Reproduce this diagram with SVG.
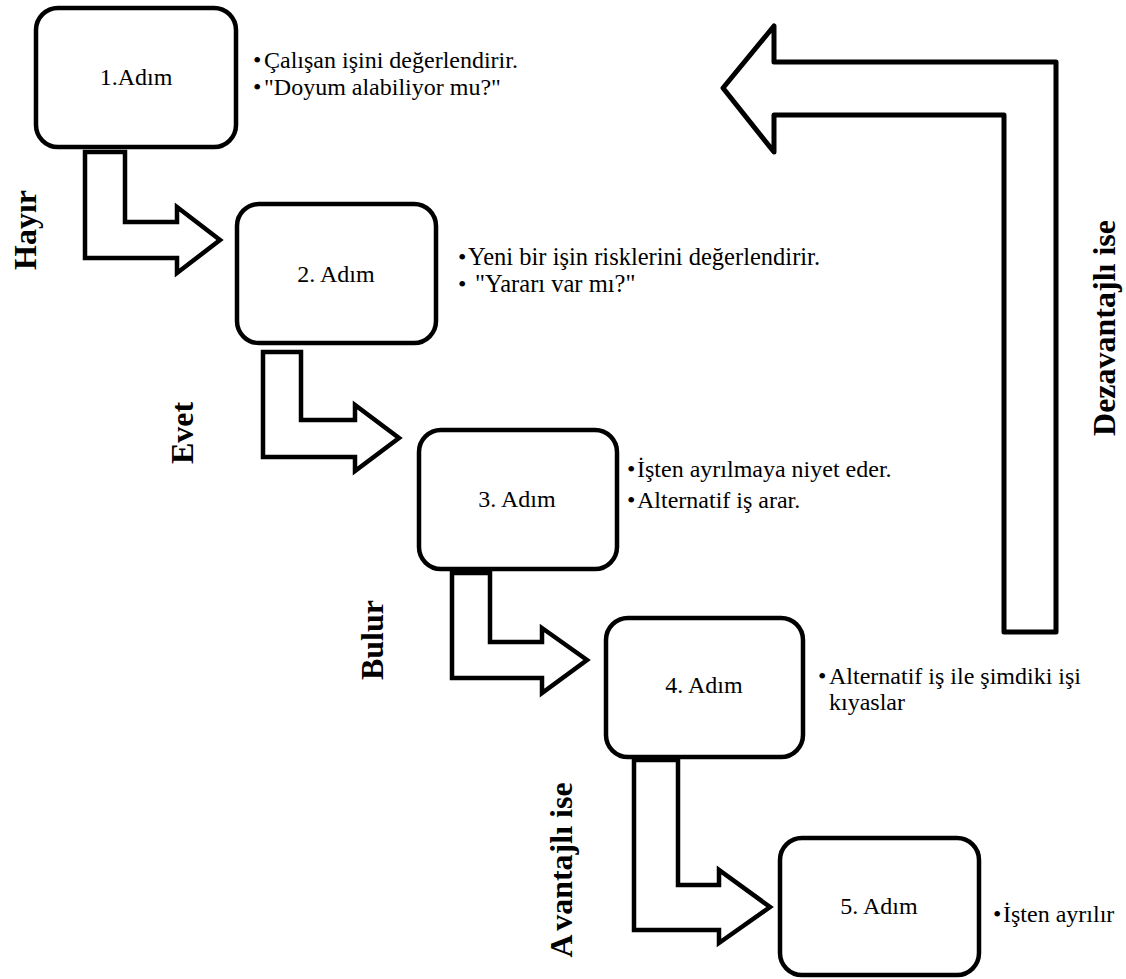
<svg xmlns="http://www.w3.org/2000/svg" width="1126" height="979" viewBox="0 0 1126 979">
<style>
.box{fill:#fff;stroke:#000;stroke-width:4.5}
.arr{fill:#fff;stroke:#000;stroke-width:4.5;stroke-linejoin:miter}
.big{fill:#fff;stroke:#000;stroke-width:5;stroke-linejoin:round}
.t{font-family:"Liberation Serif","Times New Roman",serif;font-size:24px;fill:#000}
.c{text-anchor:middle}
.lbl{font-family:"Liberation Serif","Times New Roman",serif;font-size:32px;font-weight:bold;fill:#000;text-anchor:middle}
</style>
<rect width="1126" height="979" fill="#fff"/>
<g id="connectors">
<polygon class="big" points="723,88 774,26 774,62 1056,62 1056,632 1004,632 1004,115 774,115 774,152"/>
<polygon class="arr" points="85,152 125,152 125,222 177,222 177,207 220,240 177,273 177,258 85,258"/>
<polygon class="arr" points="263,352 301,352 301,420 355,420 355,405 399,438 355,471 355,457 263,457"/>
<polygon class="arr" points="452,573 490,573 490,642 542,642 542,628 587,660 542,693 542,678 452,678"/>
<polygon class="arr" points="634,760 678,760 678,885 719,885 719,870 770,907 719,943 719,930 634,930"/>
<text class="lbl" transform="translate(36,230) rotate(-90)">Hayır</text>
<text class="lbl" transform="translate(193,433) rotate(-90)">Evet</text>
<text class="lbl" transform="translate(383,640) rotate(-90)">Bulur</text>
<text class="lbl" transform="translate(572,870) rotate(-90)">A<tspan dx="6">vantajlı ise</tspan></text>
<text class="lbl" transform="translate(1115,328) rotate(-90)">Dezavantajlı ise</text>
</g>
<g id="step1">
<rect class="box" x="36" y="8" width="200" height="139" rx="22"/>
<text class="t c" x="136" y="85">1.Adım</text>
<text class="t" x="253" y="68">•</text><text class="t" x="264" y="68">Çalışan işini değerlendirir.</text>
<text class="t" x="253" y="95">•</text><text class="t" x="264" y="95">"Doyum alabiliyor mu?"</text>
</g>
<g id="step2">
<rect class="box" x="237" y="204" width="199" height="139" rx="22"/>
<text class="t c" x="336" y="282">2. Adım</text>
<text class="t" x="458" y="265">•</text><text class="t" x="468" y="265" style="font-size:24.5px">Yeni bir işin risklerini değerlendirir.</text>
<text class="t" x="458" y="292">•</text><text class="t" x="475" y="292" style="font-size:24.5px">"Yararı var mı?"</text>
</g>
<g id="step3">
<rect class="box" x="419" y="430" width="198" height="139" rx="22"/>
<text class="t c" x="517" y="507">3. Adım</text>
<text class="t" x="627" y="477">•</text><text class="t" x="637" y="477">İşten ayrılmaya niyet eder.</text>
<text class="t" x="627" y="508">•</text><text class="t" x="637" y="508">Alternatif iş arar.</text>
</g>
<g id="step4">
<rect class="box" x="606" y="618" width="197" height="139" rx="22"/>
<text class="t c" x="704" y="693">4. Adım</text>
<text class="t" x="818" y="684">•</text><text class="t" x="829" y="684">Alternatif iş ile şimdiki işi</text>
<text class="t" x="829" y="710">kıyaslar</text>
</g>
<g id="step5">
<rect class="box" x="780" y="838" width="199" height="137" rx="22"/>
<text class="t c" x="879" y="914">5. Adım</text>
<text class="t" x="993" y="922">•</text><text class="t" x="1003" y="922">İşten ayrılır</text>
</g>
</svg>
